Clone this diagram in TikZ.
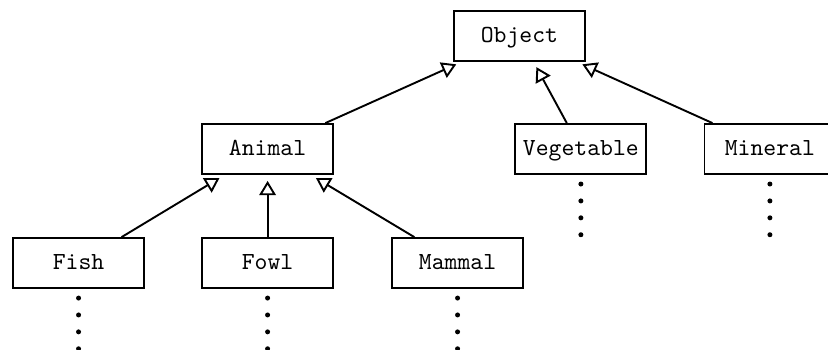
\documentclass[tikz,border=0pt]{standalone}
\usetikzlibrary{arrows.meta,positioning}

\begin{document}
\begin{tikzpicture}[x=1pt,y=1pt,
    cls/.style={draw, line width=0.8pt, inner sep=0pt,
                font=\fontsize{10.3pt}{12pt}\selectfont\ttfamily,
                minimum width=55pt, minimum height=21pt,
                text height=1.5ex, text depth=.25ex},
    isa/.style={line width=0.8pt, shorten >=2.5pt,
                -{Triangle[open, length=6pt, width=7pt]}}]
    \useasboundingbox (0,0) rectangle (347.8,-146.6);
    \clip (0,0) rectangle (347.8,-146.6);
    % class boxes, one row per level
    \node[cls] (object)    at (218.2,-15.1)  {Object};
    \node[cls] (animal)    at (112.4,-62.6)  {Animal};
    \node[cls] (vegetable) at (244.0,-62.6)  {Vegetable};
    \node[cls] (mineral)   at (323.4,-62.6)  {Mineral};
    \node[cls] (fish)      at (33.0,-110.5)  {Fish};
    \node[cls] (fowl)      at (112.4,-110.5) {Fowl};
    \node[cls] (mammal)    at (192.2,-110.5) {Mammal};
    % subclass -> superclass
    \foreach \sub/\super in {animal/object, vegetable/object, mineral/object,
                             fish/animal, fowl/animal, mammal/animal}
      \draw[isa] (\sub) -- (\super);
    % more subclasses below each leaf
    \foreach \leaf in {fish,fowl,mammal,vegetable,mineral}
      \foreach \k in {0,1,2,3}
        \fill ([yshift={-3.8pt-\k*7.1pt}]\leaf.south) circle (1.05pt);
\end{tikzpicture}
\end{document}
